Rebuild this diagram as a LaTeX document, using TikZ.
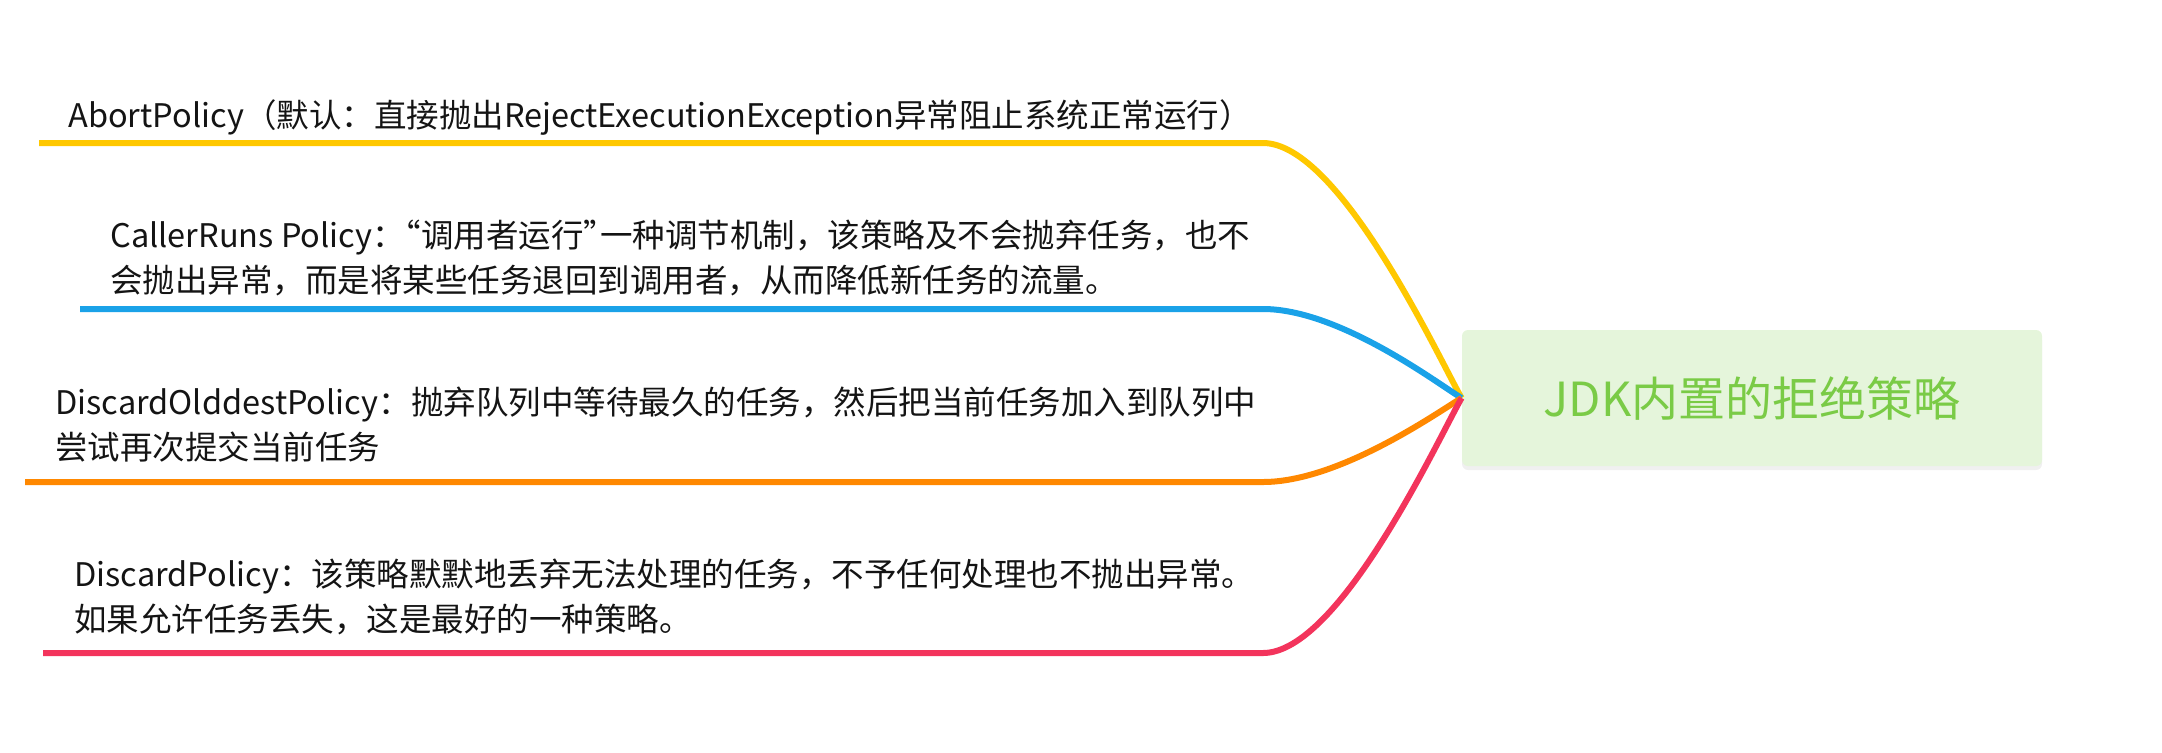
\documentclass[tikz,border=0pt]{standalone}
\usepackage{fontspec}
\setmainfont{Noto Sans CJK SC}
\newcommand{\halfq}[1]{{\addfontfeature{RawFeature=+halt}#1}}
\usetikzlibrary{positioning,shadows}
\definecolor{abortc}{RGB}{255,200,0}
\definecolor{callerc}{RGB}{26,162,232}
\definecolor{oldestc}{RGB}{255,136,0}
\definecolor{discardc}{RGB}{243,52,92}
\definecolor{rootfill}{RGB}{229,245,219}
\definecolor{roottext}{RGB}{122,203,70}
\definecolor{leaftext}{RGB}{20,20,20}
\tikzset{
  leaf/.style={anchor=base west,inner sep=0pt,align=left,text=leaftext,
    font=\fontsize{16.25pt}{22.5pt}\selectfont},
  branch/.style={line width=3pt},
  root/.style={fill=rootfill,rounded corners=3pt,minimum width=290pt,
    minimum height=68pt,text=roottext,font=\fontsize{23.5pt}{28pt}\selectfont,
    drop shadow={opacity=0.12,shadow xshift=0pt,shadow yshift=-2pt}}
}

\begin{document}
\begin{tikzpicture}[x=0.5pt,y=-0.5pt]
\useasboundingbox (0,0) rectangle (2162,752);
\node[root] (jdk) at (1752,398) {JDK内置的拒绝策略};
% branch texts (base = last line)
\node[leaf] (abort) at (68,127) {AbortPolicy（默认：直接抛出RejectExecutionException异常阻止系统正常运行）};
\node[leaf] (caller) at (110,292) {CallerRuns Policy：\halfq{“}调用者运行\halfq{”}一种调节机制，该策略及不会抛弃任务，也不\\会抛出异常，而是将某些任务退回到调用者，从而降低新任务的流量。};
\node[leaf] (oldest) at (55,459) {DiscardOlddestPolicy：抛弃队列中等待最久的任务，然后把当前任务加入到队列中\\尝试再次提交当前任务};
\node[leaf] (discard) at (74,631) {DiscardPolicy：该策略默默地丢弃无法处理的任务，不予任何处理也不抛出异常。\\如果允许任务丢失，这是最好的一种策略。};
% underlines
\coordinate (abortL) at (39,143);
\coordinate (abortR) at (1263,143);
\coordinate (callerL) at (80,309);
\coordinate (callerR) at (1263,309);
\coordinate (oldestL) at (25,482);
\coordinate (oldestR) at (1263,482);
\coordinate (discardL) at (43,653);
\coordinate (discardR) at (1263,653);
\draw[branch,abortc] (abortL)--(abortR) .. controls +(77,0) and +(-22,-38) .. (jdk.west);
\draw[branch,callerc] (callerL)--(callerR) .. controls +(77,0) and +(-22,-13) .. (jdk.west);
\draw[branch,oldestc] (oldestL)--(oldestR) .. controls +(77,0) and +(-22,13) .. (jdk.west);
\draw[branch,discardc] (discardL)--(discardR) .. controls +(77,0) and +(-22,38) .. (jdk.west);
\end{tikzpicture}
\end{document}
